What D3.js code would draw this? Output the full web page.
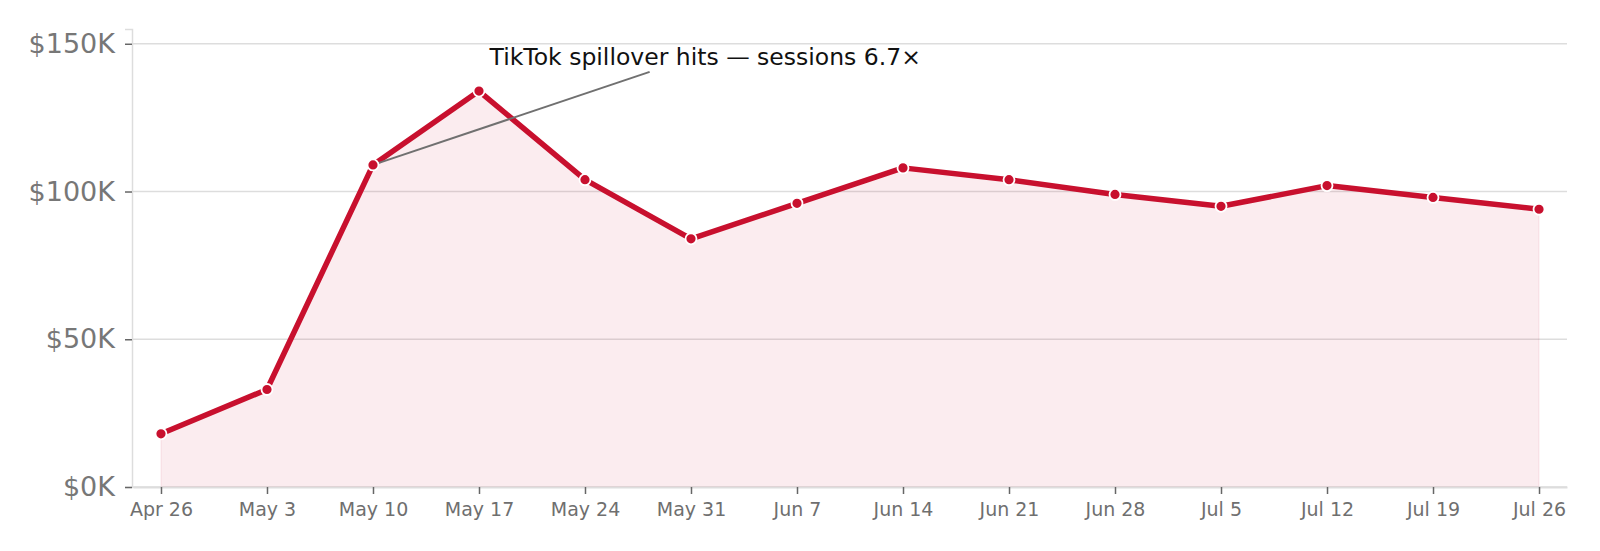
<!DOCTYPE html>
<html>
<head>
<meta charset="utf-8">
<script src="https://cdn.jsdelivr.net/npm/d3@7"></script>
<style>
  html, body { margin: 0; padding: 0; background: #fff; }
  svg { display: block; font-family: "DejaVu Sans", sans-serif; }
</style>
</head>
<body>
<div id="chart"></div>
<script>
// Weekly revenue, in $K
const weeks = ["Apr 26", "May 3", "May 10", "May 17", "May 24", "May 31", "Jun 7",
  "Jun 14", "Jun 21", "Jun 28", "Jul 5", "Jul 12", "Jul 19", "Jul 26"];
const revenue = [18, 33, 109, 134, 104, 84, 96, 108, 104, 99, 95, 102, 98, 94];
const yTicks = [0, 50, 100, 150];
const annotation = { text: "TikTok spillover hits — sessions 6.7×", index: 2 };

const width = 1600, height = 551;
const plot = { left: 133, right: 1567, top: 29, bottom: 487 };
const red = "#c8102e";

const svg = d3.select("#chart").append("svg")
  .attr("width", width)
  .attr("height", height);

// x is the week index with a little padding at both ends
const pad = 0.264;
const x = d3.scaleLinear()
  .domain([-pad, weeks.length - 1 + pad])
  .range([plot.left, plot.right]);

const y = d3.scaleLinear()
  .domain([0, 155])
  .range([plot.bottom, plot.top]);

// gridlines
svg.append("g")
  .selectAll("line")
  .data(yTicks)
  .join("line")
  .attr("x1", plot.left)
  .attr("x2", plot.right)
  .attr("y1", d => y(d))
  .attr("y2", d => y(d))
  .attr("stroke", "#dddddd")
  .attr("stroke-width", 1.5);

// area under the line
const area = d3.area()
  .x((d, i) => x(i))
  .y0(y(0))
  .y1(d => y(d));

svg.append("path")
  .datum(revenue)
  .attr("d", area)
  .attr("fill", red)
  .attr("fill-opacity", 0.08)
  .attr("stroke", red)
  .attr("stroke-opacity", 0.06)
  .attr("stroke-width", 1.5);

// axes
const yAxis = d3.axisLeft(y)
  .tickValues(yTicks)
  .tickFormat(d => "$" + d + "K")
  .tickSize(7)
  .tickPadding(10);

const gy = svg.append("g")
  .attr("transform", `translate(${plot.left - 1},0)`)
  .call(yAxis);
gy.select(".domain").attr("stroke", "#dddddd").attr("stroke-width", 1.5);
gy.selectAll(".tick line").attr("stroke", "#666").attr("stroke-width", 1.5);
gy.selectAll(".tick text")
  .attr("fill", "#777")
  .attr("font-size", 27)
  .attr("font-family", "DejaVu Sans, sans-serif");

const xAxis = d3.axisBottom(x)
  .tickValues(d3.range(weeks.length))
  .tickFormat(i => weeks[i])
  .tickSize(7)
  .tickPadding(9)
  .tickSizeOuter(0);

const gx = svg.append("g")
  .attr("transform", `translate(0,${plot.bottom})`)
  .call(xAxis);
gx.select(".domain").attr("stroke", "#dddddd").attr("stroke-width", 2);
gx.selectAll(".tick line").attr("stroke", "#666").attr("stroke-width", 1.5);
gx.selectAll(".tick text")
  .attr("fill", "#6f6f6f")
  .attr("font-size", 19)
  .attr("font-family", "DejaVu Sans, sans-serif");

// line
const line = d3.line()
  .x((d, i) => x(i))
  .y(d => y(d));

svg.append("path")
  .datum(revenue)
  .attr("d", line)
  .attr("fill", "none")
  .attr("stroke", red)
  .attr("stroke-width", 5.5)
  .attr("stroke-linejoin", "round");

// annotation leader line
const ax = x(annotation.index), ay = y(revenue[annotation.index]);
svg.append("line")
  .attr("x1", ax)
  .attr("y1", ay)
  .attr("x2", x(annotation.index + 2.61))
  .attr("y2", y(140.5))
  .attr("stroke", "#707070")
  .attr("stroke-width", 2);

// markers
svg.append("g")
  .selectAll("circle")
  .data(revenue)
  .join("circle")
  .attr("cx", (d, i) => x(i))
  .attr("cy", d => y(d))
  .attr("r", 5.5)
  .attr("fill", red)
  .attr("stroke", "#fff")
  .attr("stroke-width", 1.8);

svg.append("text")
  .attr("x", x(annotation.index + 1.10))
  .attr("y", y(142.8))
  .attr("fill", "#111")
  .attr("font-size", 23.5)
  .text(annotation.text);
</script>
</body>
</html>
